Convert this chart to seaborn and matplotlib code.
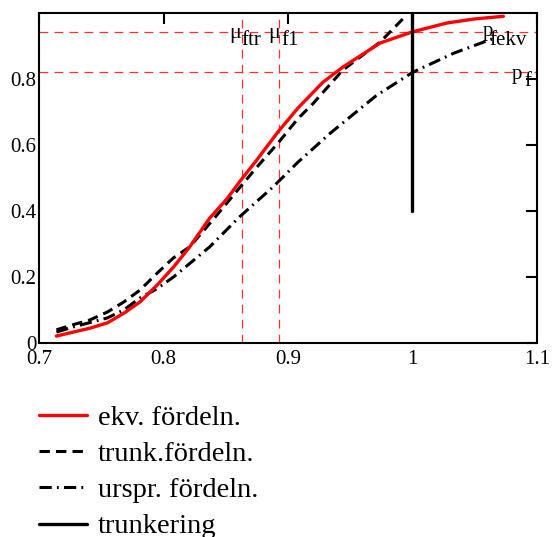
import matplotlib
matplotlib.use("Agg")
import matplotlib.pyplot as plt
import seaborn as sns
import pandas as pd

# data
x_ekv = [0.714, 0.741, 0.755, 0.768, 0.781, 0.795, 0.808, 0.821, 0.837, 0.851, 0.861, 0.875,
         0.892, 0.908, 0.928, 0.944, 0.96, 0.974, 1.0, 1.028, 1.05, 1.073]
y_ekv = [0.021, 0.045, 0.061, 0.09, 0.124, 0.176, 0.23, 0.291, 0.378, 0.437, 0.488, 0.555,
         0.64, 0.712, 0.79, 0.836, 0.875, 0.909, 0.943, 0.97, 0.982, 0.99]

x_trunk = [0.714, 0.727, 0.741, 0.755, 0.768, 0.781, 0.795, 0.808, 0.821, 0.843, 0.861, 0.875,
           0.892, 0.908, 0.92, 0.944, 0.974, 0.993]
y_trunk = [0.04, 0.055, 0.07, 0.094, 0.124, 0.16, 0.212, 0.258, 0.291, 0.388, 0.47, 0.533,
           0.606, 0.68, 0.725, 0.827, 0.912, 0.985]

x_urspr = [0.714, 0.727, 0.743, 0.755, 0.768, 0.781, 0.795, 0.808, 0.837, 0.861, 0.888, 0.908,
           0.934, 0.971, 1.0, 1.033, 1.068]
y_urspr = [0.033, 0.048, 0.064, 0.076, 0.1, 0.136, 0.165, 0.2, 0.291, 0.382, 0.473, 0.548,
           0.636, 0.75, 0.82, 0.878, 0.927]

x_trunkering = [1.0, 1.0]
y_trunkering = [0.4, 1.0]

mu_ftr = 0.863
mu_f1 = 0.893
p_fekv = 0.942
p_f = 0.821

labels = ["ekv. fördeln.", "trunk.fördeln.", "urspr. fördeln.", "trunkering"]

sns.set_style("white")
plt.rcParams["font.family"] = ["Liberation Serif", "DejaVu Serif"]
plt.rcParams["text.color"] = "black"

fig = plt.figure(figsize=(5.53, 5.37), dpi=100)
ax = fig.add_axes([39 / 553, 1 - 343 / 537, 498 / 553, 330 / 537])

df_ekv = pd.DataFrame({"x": x_ekv, "y": y_ekv})
df_trunk = pd.DataFrame({"x": x_trunk, "y": y_trunk})
df_urspr = pd.DataFrame({"x": x_urspr, "y": y_urspr})
df_tr = pd.DataFrame({"x": x_trunkering, "y": y_trunkering})

# reference lines
for v in (mu_ftr, mu_f1):
    ax.axvline(v, color="#ff3030", lw=0.9, ls=(0, (7, 5)), zorder=1)
for h in (p_fekv, p_f):
    ax.axhline(h, color="#ff3030", lw=0.9, ls=(0, (7, 5)), zorder=1)

sns.lineplot(data=df_urspr, x="x", y="y", ax=ax, color="black", lw=2.2,
             sort=False, estimator=None, label=labels[2])
sns.lineplot(data=df_trunk, x="x", y="y", ax=ax, color="black", lw=2.2,
             sort=False, estimator=None, label=labels[1])
sns.lineplot(data=df_ekv, x="x", y="y", ax=ax, color="#ff0000", lw=2.4,
             sort=False, estimator=None, label=labels[0])
sns.lineplot(data=df_tr, x="x", y="y", ax=ax, color="black", lw=2.4,
             sort=False, estimator=None, label=labels[3])
lines = ax.get_lines()
lines[-4].set_linestyle((0, (4.0, 1.7, 0.6, 1.7)))
lines[-3].set_linestyle((0, (3.4, 2.0)))

ax.set_xlim(0.7, 1.1)
ax.set_ylim(0, 1.0)
ax.set_xticks([0.7, 0.8, 0.9, 1.0, 1.1])
ax.set_xticklabels(["0.7", "0.8", "0.9", "1", "1.1"])
ax.set_yticks([0, 0.2, 0.4, 0.6, 0.8])
ax.set_yticklabels(["0", "0.2", "0.4", "0.6", "0.8"])
ax.set_xlabel("")
ax.set_ylabel("")
ax.tick_params(direction="in", length=8, width=1.5, top=True, right=True,
               labelsize=15, colors="black")
ax.tick_params(axis="x", pad=5)
ax.tick_params(axis="y", pad=2)
for s in ax.spines.values():
    s.set_color("black")
    s.set_linewidth(1.5)

# annotation labels
fs = 15
ax.text(0.8525, 0.925, "μ", fontsize=fs + 1, va="baseline", ha="left")
ax.text(0.8625, 0.903, "ftr", fontsize=fs, va="baseline", ha="left")
ax.text(0.8845, 0.925, "μ", fontsize=fs + 1, va="baseline", ha="left")
ax.text(0.8945, 0.903, "f1", fontsize=fs, va="baseline", ha="left")
ax.text(1.0565, 0.93, "p", fontsize=fs, va="baseline", ha="left")
ax.text(1.062, 0.902, "fekv", fontsize=fs, va="baseline", ha="left")
ax.text(1.080, 0.80, "p", fontsize=fs, va="baseline", ha="left")
ax.text(1.090, 0.778, "f", fontsize=fs, va="baseline", ha="left")

# legend below the plot
ax.get_legend().remove()
h_all = {l.get_label(): l for l in ax.get_lines()}
handles = [h_all[l] for l in labels]
fig.legend(handles, labels, loc="upper left", bbox_to_anchor=(39 / 553, 1 - 405 / 537),
           frameon=False, fontsize=20.5, handlelength=1.68, handletextpad=0.39,
           labelspacing=0.36, borderpad=0, borderaxespad=0)

fig.savefig("out.png", dpi=100)
